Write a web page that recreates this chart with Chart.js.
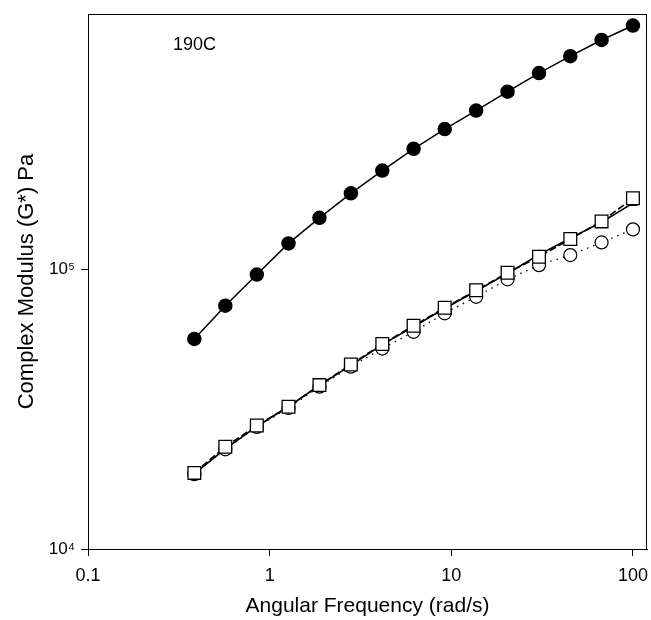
<!DOCTYPE html>
<html>
<head>
<meta charset="utf-8">
<script src="https://cdn.jsdelivr.net/npm/chart.js@4.4.0/dist/chart.umd.min.js"></script>
<style>
html, body { margin:0; padding:0; background:#fff; }
#caja { width:651px; height:620px; position:relative; }
</style>
</head>
<body>
<div id="caja"><canvas id="grafico"></canvas></div>
<script>
var frecuencias = [0.385, 0.57, 0.85, 1.27, 1.88, 2.8, 4.17, 6.2, 9.2, 13.7, 20.4, 30.4, 45.2, 67.2, 100]
var moduloLleno = [56300, 74000, 95600, 123500, 152400, 186400, 224900, 268900, 316200, 368400, 430300, 501200, 576300, 658100, 741400]
var moduloCuadro = [18700, 23200, 27600, 32200, 38500, 45600, 54000, 62700, 72700, 84000, 97000, 110600, 128000, 148000, 179000]
var moduloNegro = [18600, 22800, 27400, 32300, 38400, 45300, 53700, 62300, 72300, 83500, 96500, 112500, 129000, 147000, 172000]
var moduloCirculo = [18500, 22700, 27300, 31900, 38000, 44800, 52000, 59700, 69500, 79600, 91900, 103300, 112200, 124500, 138600]
var ticksX = [0.1, 1, 10, 100]
var ticksY = [10000, 100000]
var etiquetasY = ['10\u2074', '10\u2075']

function pares(valores)
{
    return frecuencias.map((f, i) => ({x: f, y: valores[i]}))
}

var marco = {
    id: 'marco',
    afterDraw(chart)
    {
        var a = chart.chartArea
        var c = chart.ctx
        c.save()
        c.strokeStyle = '#000'
        c.lineWidth = 1
        c.strokeRect(a.left + 0.5, a.top + 0.5, a.right - a.left - 1, a.bottom - a.top)
        c.fillStyle = '#000'
        c.font = '18px "Liberation Sans", Arial, sans-serif'
        c.textBaseline = 'middle'
        c.fillText('190C', a.left + 85, a.top + 31)
        c.restore()
    }
}

var ctx = document.getElementById('grafico')
var mychart = new Chart(ctx,
    {
        type: 'line',
        data:
            {
                datasets:
                    [{
                        label: 'cuadro',
                        data: pares(moduloCuadro),
                        borderColor: '#000',
                        borderWidth: 1.6,
                        borderDash: [7, 3],
                        pointStyle: 'rect',
                        pointRadius: 9,
                        pointBackgroundColor: '#fff',
                        pointBorderColor: '#000',
                        pointBorderWidth: 1.3,
                        order: 1
                    },
                    {
                        label: 'negro',
                        data: pares(moduloNegro),
                        borderColor: '#000',
                        borderWidth: 1.6,
                        pointStyle: 'triangle',
                        pointRadius: 4,
                        pointBackgroundColor: '#000',
                        pointBorderColor: '#000',
                        order: 2
                    },
                    {
                        label: 'circulo',
                        data: pares(moduloCirculo),
                        borderColor: '#000',
                        borderWidth: 1.3,
                        borderDash: [1.5, 5],
                        pointStyle: 'circle',
                        pointRadius: 6.5,
                        pointBackgroundColor: '#fff',
                        pointBorderColor: '#000',
                        pointBorderWidth: 1.2,
                        order: 3
                    },
                    {
                        label: 'lleno',
                        data: pares(moduloLleno),
                        borderColor: '#000',
                        borderWidth: 1.5,
                        pointStyle: 'circle',
                        pointRadius: 6.5,
                        pointBackgroundColor: '#000',
                        pointBorderColor: '#000',
                        order: 4
                    }]
            },
        options:
            {
                responsive: true,
                maintainAspectRatio: false,
                animation: false,
                layout: { autoPadding: false, padding: { top: 14, right: 4, left: 0, bottom: 0 } },
                plugins: { legend: { display: false }, tooltip: { enabled: false } },
                scales:
                    {
                        x:
                            {
                                type: 'logarithmic',
                                min: 0.1,
                                max: 119.5,
                                bounds: 'data',
                                border: { display: true, color: '#000', width: 1 },
                                grid: { drawOnChartArea: false, drawTicks: true, tickLength: 7, color: '#000' },
                                ticks: {
                                    color: '#000',
                                    padding: 9,
                                    maxRotation: 0,
                                    autoSkip: false,
                                    font: { family: '"Liberation Sans", Arial, sans-serif', size: 18 },
                                    callback: v => String(v)
                                },
                                afterBuildTicks: s => { s.ticks = ticksX.map(v => ({value: v})) },
                                afterFit: s => { s.height = 71; s.paddingLeft = 0; s.paddingRight = 0 },
                                title: {
                                    display: true,
                                    text: 'Angular Frequency (rad/s)',
                                    color: '#000',
                                    font: { family: '"Liberation Sans", Arial, sans-serif', size: 21 },
                                    padding: { top: 0, bottom: 1.5 }
                                }
                            },
                        y:
                            {
                                type: 'logarithmic',
                                min: 10000,
                                max: 815000,
                                bounds: 'data',
                                border: { display: true, color: '#000', width: 1 },
                                grid: { drawOnChartArea: false, drawTicks: true, tickLength: 7, color: '#000' },
                                ticks: {
                                    color: '#000',
                                    padding: 6,
                                    autoSkip: false,
                                    font: { family: '"Liberation Sans", Arial, sans-serif', size: 17 },
                                    callback: (v) => etiquetasY[ticksY.indexOf(v)] || ''
                                },
                                afterBuildTicks: s => { s.ticks = ticksY.map(v => ({value: v})) },
                                afterFit: s => { s.width = 88; s.paddingTop = 0; s.paddingBottom = 0 },
                                title: {
                                    display: true,
                                    text: 'Complex Modulus (G*) Pa',
                                    color: '#000',
                                    font: { family: '"Liberation Sans", Arial, sans-serif', size: 22 },
                                    padding: { top: 14, bottom: 0 }
                                }
                            }
                    }
            },
        plugins: [marco]
    })
</script>
</body>
</html>
